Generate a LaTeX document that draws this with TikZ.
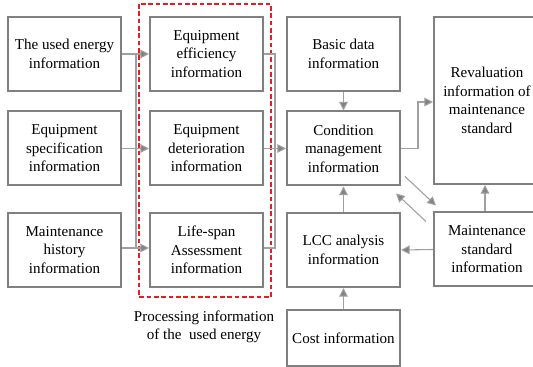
\documentclass[tikz,border=0pt]{standalone}
\usepackage{fontspec}
\setmainfont{Liberation Serif}
\usetikzlibrary{arrows.meta,calc}

\definecolor{boxGray}{RGB}{128,128,128}
\definecolor{linkGray}{RGB}{160,160,160}
\definecolor{tipGray}{RGB}{130,130,130}
\definecolor{procRed}{RGB}{228,30,36}

\tikzset{
    infobox/.style={draw=boxGray, line width=1.5pt, align=center, minimum width=113*0.75pt,
        minimum height=74*0.75pt, inner sep=2pt, font=\fontsize{11.3}{13.9}\selectfont},
    link/.style={draw=linkGray, line width=0.8pt},
    arrow/.style={link, -{Triangle[length=6.5pt,width=6.5pt,fill=tipGray]}},
    procbox/.style={draw=procRed, line width=1.5pt, dash pattern=on 3.5pt off 2pt}
}

\begin{document}
\begin{tikzpicture}[x=0.75pt,y=-0.75pt]
    \clip (0,0) rectangle (533,367);
    \node[infobox] (usedEnergy) at (64.5,54) {The used energy\\information};
    \node[infobox] (eqSpec) at (64.5,148.5) {Equipment\\specification\\information};
    \node[infobox] (maintHist) at (64.5,250) {Maintenance\\history\\information};
    \node[infobox] (eqEff) at (206.5,54) {Equipment\\efficiency\\information};
    \node[infobox] (eqDet) at (206.5,148.5) {Equipment\\deterioration\\information};
    \node[infobox] (lifeSpan) at (206.5,250) {Life-span\\Assessment\\information};
    \node[infobox] (basicData) at (343.5,54) {Basic data\\information};
    \node[infobox] (condMgmt) at (343.5,148.5) {Condition\\management\\information};
    \node[infobox] (lccInfo) at (343.5,250) {LCC analysis\\information};
    \node[infobox, minimum height=56*0.75pt] (costInfo) at (343.5,338) {Cost information};
    \node[infobox, minimum width=106*0.75pt, minimum height=167*0.75pt] (revalStd) at (487,100.5)
        {Revaluation\\information of\\maintenance\\standard};
    \node[infobox, minimum width=106*0.75pt] (maintStd) at (487,249.5) {Maintenance\\standard\\information};
    \node[align=center, font=\fontsize{11.3}{13.9}\selectfont] (procLabel) at (204,327)
        {Processing information\\of the~ used energy};
    \coordinate (busL) at (136,0);
    \coordinate (busR) at (275,0);

    \draw[procbox] ($(eqEff.north west)+(-10,-12)$) rectangle ($(lifeSpan.south east)+(7,9)$);
    \draw[arrow] (usedEnergy.east) -- (eqEff.west);
    \draw[arrow] (eqSpec.east) -- (eqDet.west);
    \draw[arrow] (maintHist.east |- 0,248) -- (lifeSpan.west |- 0,248);
    \draw[link] (busL |- usedEnergy.east) -- (busL |- 0,248);
    \draw[link] (eqEff.east) -- (busR |- eqEff.east) -- (busR |- 0,248) -- (lifeSpan.east |- 0,248);
    \draw[arrow] (eqDet.east) -- (condMgmt.west);
    \draw[arrow] (basicData.south) -- (condMgmt.north);
    \draw[arrow] (lccInfo.north) -- (condMgmt.south);
    \draw[arrow] (costInfo.north) -- (lccInfo.south);
    \draw[arrow] (maintStd.west) -- (lccInfo.east);
    \draw[arrow] (maintStd.north -| 485,0) -- (revalStd.south -| 485,0);
    \draw[arrow] (condMgmt.east) -- ++(17,0) |- (revalStd.west |- 0,102);
    \draw[arrow] ($(condMgmt.south east)+(4,-10)$) -- ($(maintStd.north west)+(3,-6)$);
    \draw[arrow] ($(maintStd.north west)+(-7,10)$) -- ($(condMgmt.south east)+(-5,7)$);
\end{tikzpicture}
\end{document}
